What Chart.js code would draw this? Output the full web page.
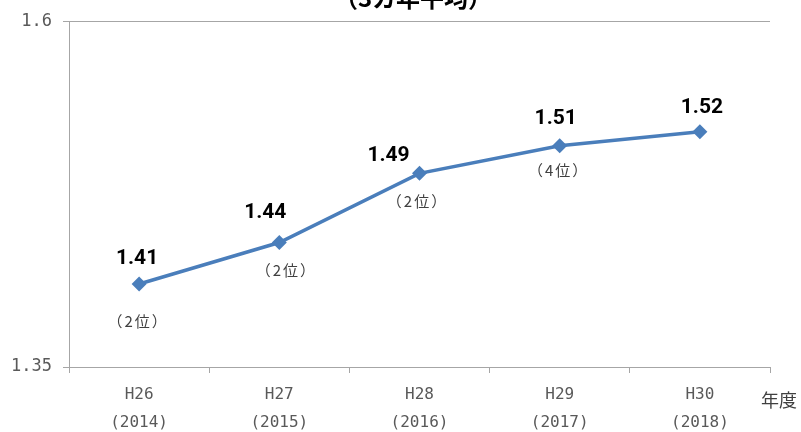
<!DOCTYPE html>
<html>
<head>
<meta charset="utf-8">
<script src="https://cdn.jsdelivr.net/npm/chart.js@4"></script>
<style>
html,body{margin:0;padding:0;background:#fff;}
#wrap{width:801px;height:432px;position:relative;}
</style>
</head>
<body>
<div id="wrap"><canvas id="c" width="801" height="432"></canvas></div>
<script>
const eraLabels = ['H26', 'H27', 'H28', 'H29', 'H30'];
const yearLabels = ['(2014)', '(2015)', '(2016)', '(2017)', '(2018)'];
const values = [1.41, 1.44, 1.49, 1.51, 1.52];
const ranks = ['（2位）', '（2位）', '（2位）', '（4位）', ''];
const yTicks = [1.35, 1.6];
const titleText = '（3カ年平均）';
const axisUnit = '年度';

const labels = eraLabels.map((e, i) => [e, yearLabels[i]]);

const valueOffsets = [[-2, -25], [-14, -30], [-31, -18], [-4, -27], [2, -24]];
const rankOffsets = [[-2, 37], [6, 28], [-3, 28], [-2, 25], [0, 0]];

const annot = {
  id: 'annot',
  afterDatasetsDraw(chart) {
    const ctx = chart.ctx;
    const meta = chart.getDatasetMeta(0);
    ctx.save();
    ctx.textAlign = 'center';
    ctx.textBaseline = 'middle';
    meta.data.forEach((pt, i) => {
      ctx.font = 'bold 21px Roboto, "Liberation Sans", sans-serif';
      ctx.fillStyle = '#000';
      ctx.letterSpacing = '0px';
      ctx.fillText(values[i].toFixed(2), pt.x + valueOffsets[i][0], pt.y + valueOffsets[i][1]);
      if (ranks[i]) {
        ctx.font = '15px "Noto Sans CJK JP", sans-serif';
        ctx.fillStyle = '#404040';
        ctx.letterSpacing = '2px';
        ctx.fillText(ranks[i], pt.x + rankOffsets[i][0] + 1, pt.y + rankOffsets[i][1]);
      }
    });
    ctx.letterSpacing = '0px';
    // unit label
    const xs = chart.scales.x;
    ctx.font = '18px "Noto Sans CJK JP", sans-serif';
    ctx.fillStyle = '#404040';
    ctx.fillText(axisUnit, xs.right + 9, xs.top + 33);
    // clipped title
    ctx.font = 'bold 24px "Noto Sans CJK JP", sans-serif';
    ctx.fillStyle = '#000';
    ctx.textBaseline = 'alphabetic';
    ctx.fillText(titleText, 413, 7);
    ctx.restore();
  }
};

new Chart(document.getElementById('c'), {
  type: 'line',
  data: {
    labels: labels,
    datasets: [{
      data: values,
      borderColor: '#4A7EBB',
      backgroundColor: '#4A7EBB',
      borderWidth: 3.5,
      pointStyle: 'rectRot',
      pointRadius: 7.5,
      pointHoverRadius: 7.5,
      pointBorderWidth: 0,
      tension: 0
    }]
  },
  options: {
    responsive: false,
    animation: false,
    events: [],
    layout: { padding: { top: 21, right: 31, left: 0, bottom: 0 } },
    plugins: { legend: { display: false }, tooltip: { enabled: false }, title: { display: false } },
    scales: {
      x: {
        offset: true,
        grid: { offset: true, display: true, drawOnChartArea: false, drawTicks: true, tickLength: 6, color: '#A6A6A6', lineWidth: 1 },
        border: { display: true, color: '#A6A6A6', width: 1 },
        ticks: {
          color: '#595959',
          font: { family: '"DejaVu Sans Mono", monospace', size: 16, lineHeight: 1.8 },
          padding: 7,
          maxRotation: 0,
          autoSkip: false
        },
        afterFit(s) { s.height = 65; }
      },
      y: {
        min: yTicks[0],
        max: yTicks[yTicks.length - 1],
        afterBuildTicks(s) { s.ticks = yTicks.map(v => ({ value: v })); },
        grid: { display: true, drawOnChartArea: true, drawTicks: true, tickLength: 6, color: '#A6A6A6', lineWidth: 1 },
        border: { display: true, color: '#A6A6A6', width: 1 },
        ticks: {
          color: '#595959',
          font: { family: '"DejaVu Sans Mono", monospace', size: 17 },
          padding: 11,
          callback: v => String(v)
        },
        afterFit(s) { s.width = 69; }
      }
    }
  },
  plugins: [annot]
});
</script>
</body>
</html>
